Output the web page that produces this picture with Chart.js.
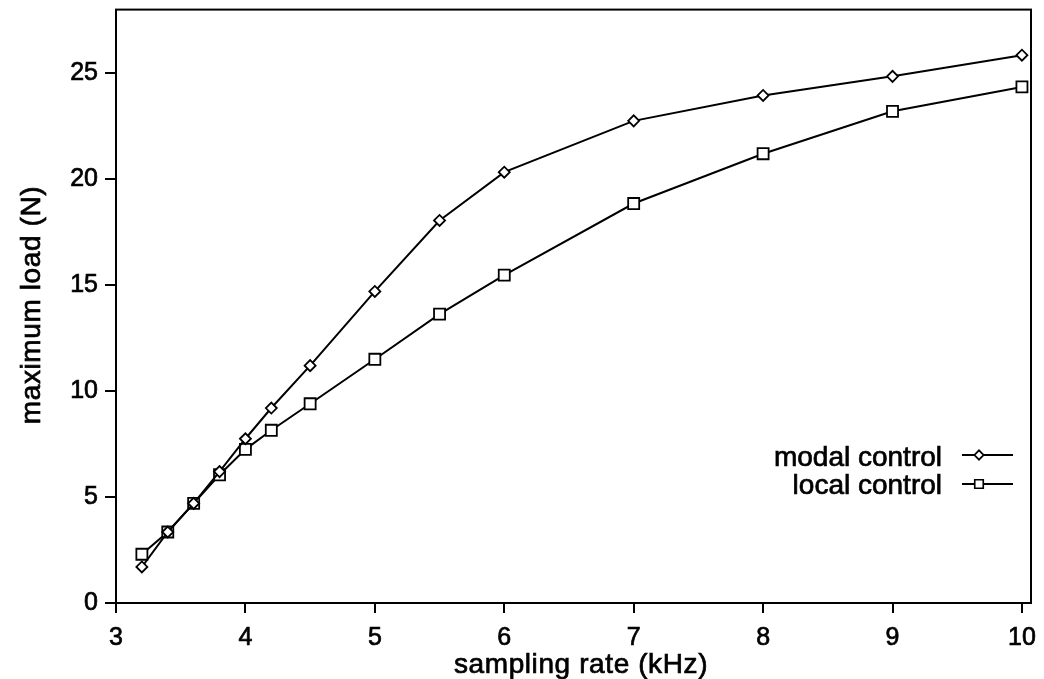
<!DOCTYPE html>
<html>
<head>
<meta charset="utf-8">
<script src="https://cdn.jsdelivr.net/npm/chart.js@4.4.1/dist/chart.umd.min.js"></script>
<style>
  html, body { margin: 0; padding: 0; background: #fff; }
  #wrap { width: 1044px; height: 679px; }
</style>
</head>
<body>
<div id="wrap"><canvas id="c" width="1044" height="679"></canvas></div>
<script>
// ---- data ----
const samplingRate = [3.2, 3.4, 3.6, 3.8, 4.0, 4.2, 4.5, 5.0, 5.5, 6.0, 7.0, 8.0, 9.0, 10.0];
const modalControl = [1.7, 3.35, 4.7, 6.2, 7.75, 9.2, 11.2, 14.7, 18.05, 20.33, 22.75, 23.95, 24.85, 25.85];
const localControl = [2.3, 3.35, 4.7, 6.05, 7.25, 8.15, 9.4, 11.5, 13.63, 15.47, 18.85, 21.2, 23.2, 24.35];
const xTickValues = [3, 4, 5, 6, 7, 8, 9, 10];
const yTickValues = [0, 5, 10, 15, 20, 25];
const seriesNames = ['modal control', 'local control'];
const xTitle = 'sampling rate (kHz)';
const yTitle = 'maximum load (N)';

const FONT = 'Liberation Sans, Arial, Helvetica, sans-serif';
const TICK_FS = 25;
const TITLE_FS = 28;

function heavyText(ctx, text, x, y) {
  ctx.fillText(text, x, y);
  ctx.strokeText(text, x, y);
}

const frame = {
  id: 'frame',
  afterDraw(chart) {
    const { ctx, chartArea: a } = chart;
    ctx.save();
    ctx.strokeStyle = '#000';
    ctx.lineWidth = 2;
    ctx.strokeRect(a.left, a.top, a.right - a.left, a.bottom - a.top);
    ctx.restore();
  }
};

const titlesPlugin = {
  id: 'titles',
  afterDraw(chart) {
    const { ctx, chartArea: a } = chart;
    ctx.save();
    ctx.font = TITLE_FS + 'px ' + FONT;
    try { ctx.letterSpacing = '0.6px'; } catch (e) {}
    ctx.fillStyle = '#000';
    ctx.strokeStyle = '#000';
    ctx.lineWidth = 0.7;
    ctx.textBaseline = 'alphabetic';
    ctx.textAlign = 'center';
    heavyText(ctx, xTitle, 581, 673);
    ctx.translate(40, 305);
    ctx.rotate(-Math.PI / 2);
    heavyText(ctx, yTitle, 0, 0);
    ctx.restore();
  }
};

const legendPlugin = {
  id: 'customLegend',
  afterDraw(chart) {
    const { ctx } = chart;
    ctx.save();
    const rows = [
      { y: 455, base: 466, style: 'rectRot', r: 4.5 },
      { y: 484, base: 494, style: 'rect', r: 6 }
    ];
    rows.forEach((row, i) => {
      ctx.font = TITLE_FS + 'px ' + FONT;
      ctx.fillStyle = '#000';
      ctx.strokeStyle = '#000';
      ctx.lineWidth = 0.7;
      ctx.textAlign = 'right';
      ctx.textBaseline = 'alphabetic';
      heavyText(ctx, seriesNames[i], 942, row.base);
      ctx.lineWidth = 2;
      ctx.beginPath();
      ctx.moveTo(962, row.y);
      ctx.lineTo(1013, row.y);
      ctx.stroke();
      ctx.fillStyle = '#fff';
      ctx.lineWidth = 1.6;
      Chart.helpers.drawPoint(ctx, { pointStyle: row.style, radius: row.r, borderWidth: 1.6 }, 979, row.y);
      ctx.fill();
      ctx.stroke();
    });
    ctx.restore();
  }
};

const tickFont = { family: FONT, size: TICK_FS };

new Chart(document.getElementById('c'), {
  type: 'line',
  data: {
    datasets: [
      {
        label: seriesNames[0],
        data: samplingRate.map((x, i) => ({ x, y: modalControl[i] })),
        borderColor: '#000', borderWidth: 2,
        pointStyle: 'rectRot', pointRadius: 5.5, pointBorderWidth: 1.8,
        pointBackgroundColor: '#fff', pointBorderColor: '#000',
        fill: false, tension: 0
      },
      {
        label: seriesNames[1],
        data: samplingRate.map((x, i) => ({ x, y: localControl[i] })),
        borderColor: '#000', borderWidth: 2,
        pointStyle: 'rect', pointRadius: 7.8, pointBorderWidth: 1.8,
        pointBackgroundColor: '#fff', pointBorderColor: '#000',
        fill: false, tension: 0
      }
    ]
  },
  options: {
    responsive: false,
    animation: false,
    devicePixelRatio: 1,
    layout: { padding: { left: 0, top: 9, right: 13, bottom: 0 } },
    plugins: { legend: { display: false }, tooltip: { enabled: false } },
    scales: {
      x: {
        type: 'linear', min: 3, max: 10.07,
        afterBuildTicks: s => { s.ticks = xTickValues.map(v => ({ value: v })); },
        afterFit: s => { s.height = 76; s.paddingLeft = 0; s.paddingRight = 0; },
        grid: { display: true, drawOnChartArea: false, drawTicks: true, tickLength: 10, color: '#000', lineWidth: 2 },
        border: { display: true, color: '#000', width: 2 },
        ticks: { color: '#000', padding: 10, font: tickFont, maxRotation: 0, autoSkip: false, textStrokeColor: '#000', textStrokeWidth: 0.7 },
        title: { display: false }
      },
      y: {
        type: 'linear', min: 0, max: 28,
        afterBuildTicks: s => { s.ticks = yTickValues.map(v => ({ value: v })); },
        afterFit: s => { s.width = 116; s.paddingTop = 0; s.paddingBottom = 0; },
        grid: { display: true, drawOnChartArea: false, drawTicks: true, tickLength: 11, color: '#000', lineWidth: 2 },
        border: { display: true, color: '#000', width: 2 },
        ticks: { color: '#000', padding: 7, font: tickFont, autoSkip: false, textStrokeColor: '#000', textStrokeWidth: 0.7 },
        title: { display: false }
      }
    }
  },
  plugins: [frame, titlesPlugin, legendPlugin]
});
</script>
</body>
</html>
